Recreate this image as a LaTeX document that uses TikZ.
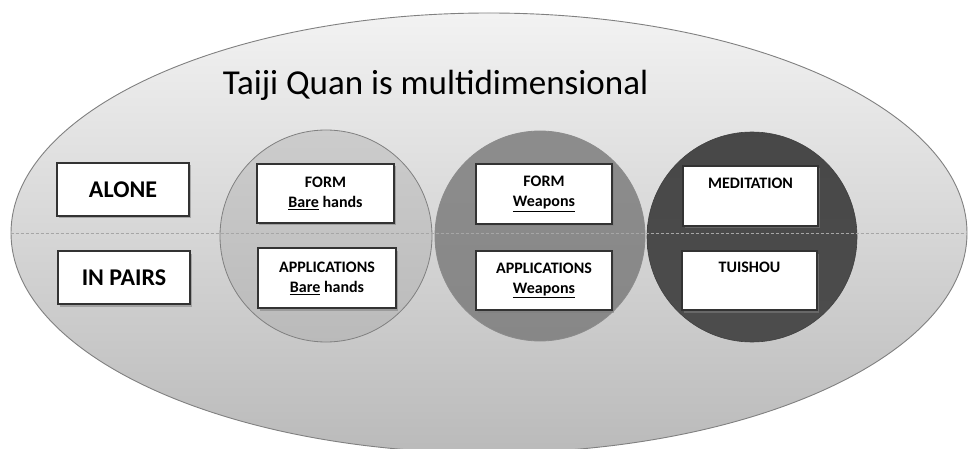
\documentclass[tikz,border=0pt]{standalone}
\usepackage{fontspec}
\setmainfont{Carlito}
\usetikzlibrary{shapes.geometric,shadows}
\newcommand{\ul}[1]{\underline{#1}}
\begin{document}
\begin{tikzpicture}[x=1pt,y=-1pt,
  boxnode/.style={draw=black!80, line width=1.3pt, fill=white, inner sep=0pt, align=center,
    font=\fontsize{16}{20}\selectfont\bfseries,
    drop shadow={shadow xshift=1.5pt, shadow yshift=-2.5pt, opacity=0.55}},
  bigbox/.style={boxnode, font=\fontsize{24}{28}\selectfont\bfseries},
  ring/.style={circle, minimum size=212pt, inner sep=0pt},
]
\useasboundingbox (0,0) rectangle (969,449);
\fill[white] (0,0) rectangle (969,449);
\begin{scope}
\clip (0,0) rectangle (969,449);
\node[ellipse, minimum width=956pt, minimum height=440pt, draw=black!50, line width=0.9pt,
  top color=black!5, bottom color=black!27, inner sep=0pt] (outer) at (489,233) {};
\node[ring, draw=black!50, line width=0.8pt, top color=black!20, bottom color=black!27] (c1) at (326,236) {};
\node[ring, draw=black!45, line width=0.8pt, top color=black!45, bottom color=black!47, minimum size=210pt] (c2) at (540,236) {};
\node[ring, draw=black!75, line width=0.6pt, top color=black!72, bottom color=black!70, minimum size=210pt] (c3) at (752,237) {};
\draw[black!35, line width=0.8pt, dash pattern=on 3pt off 2pt] (outer.west) -- (outer.east);
\end{scope}
\node[font=\fontsize{35}{42}\selectfont, anchor=base] (title) at (435.5,95) {Taiji Quan is multidimensional};
\node[bigbox, minimum width=132pt, minimum height=53pt] (alone) at (123,189.5) {ALONE};
\node[bigbox, minimum width=132pt, minimum height=53pt] (pairs) at (124,277.5) {IN PAIRS};
\node[boxnode, minimum width=137pt, minimum height=59pt] (fbh) at (325.5,193.5) {FORM\\\ul{Bare} hands};
\node[boxnode, minimum width=138pt, minimum height=60pt] (abh) at (327,278) {APPLICATIONS\\\ul{Bare} hands};
\node[boxnode, minimum width=136pt, minimum height=60pt] (fw) at (544,194) {FORM\\\ul{Weapons}};
\node[boxnode, minimum width=136pt, minimum height=59pt] (aw) at (544,280.5) {APPLICATIONS\\\ul{Weapons}};
\node[boxnode, minimum width=135pt, minimum height=60pt] (med) at (750.5,196) {MEDITATION\\\strut};
\node[boxnode, minimum width=135pt, minimum height=59pt] (tui) at (749.5,280.5) {TUISHOU\\\strut};
\end{tikzpicture}
\end{document}
